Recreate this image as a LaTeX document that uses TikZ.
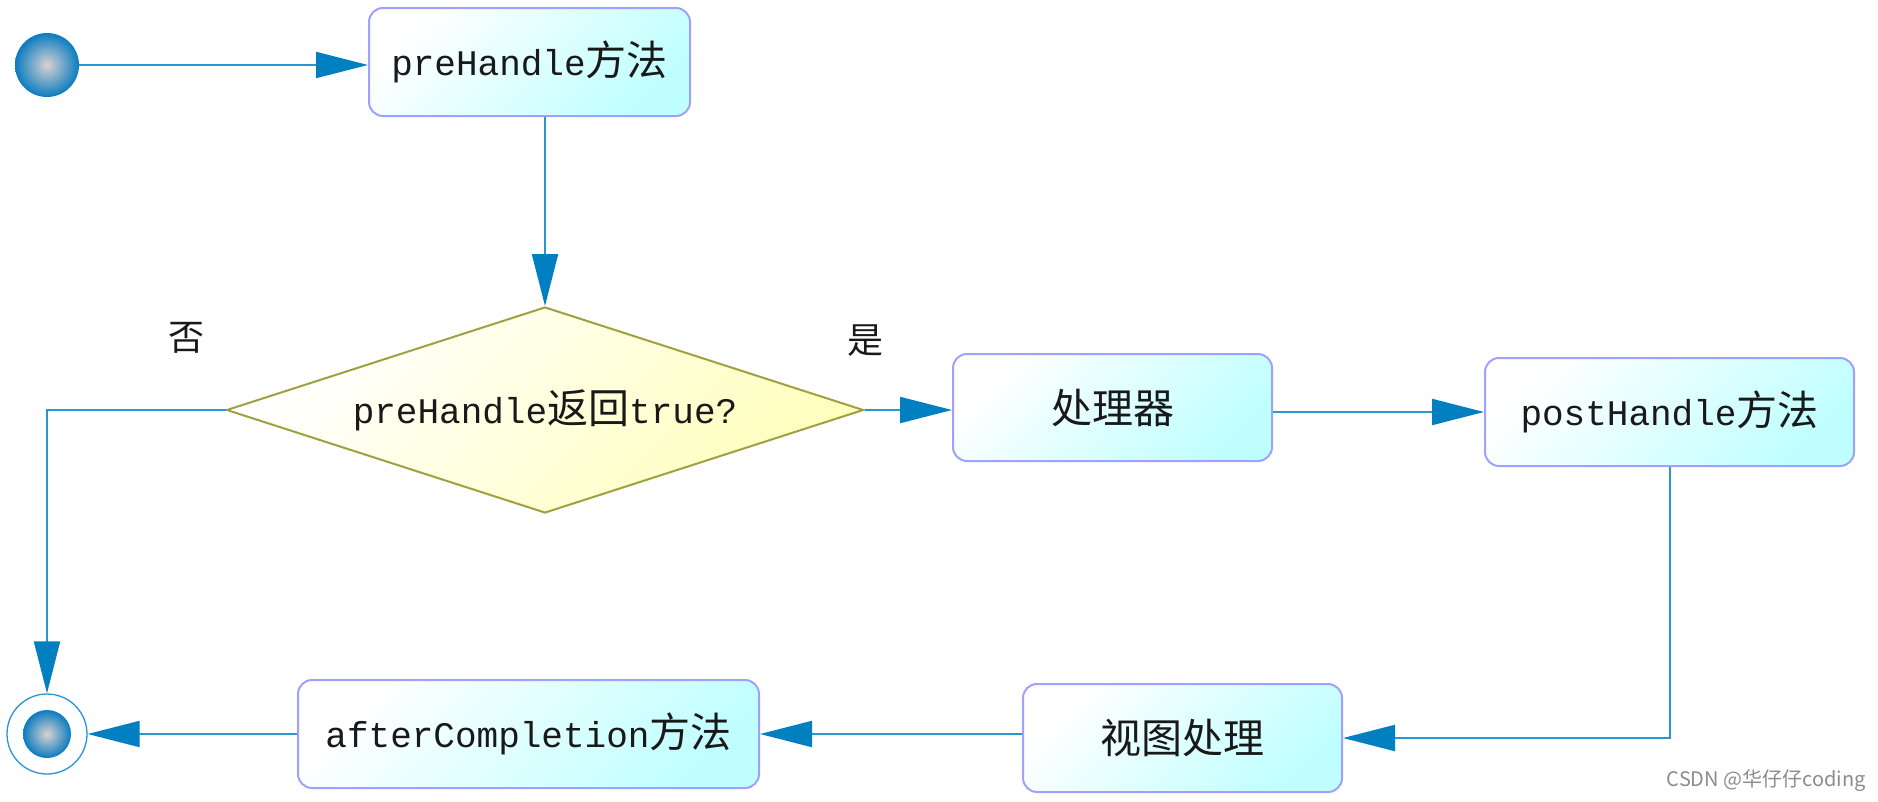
\documentclass[tikz,border=0pt]{standalone}
\usepackage{fontspec}
\usetikzlibrary{shapes.geometric,arrows.meta}
\newfontfamily\monofnt{Liberation Mono}
\newfontfamily\cjkfnt{Noto Sans CJK SC}
\newcommand\mylat[1]{{\fontsize{36}{40}\selectfont\monofnt #1}}
\newcommand\myzh[1]{{\fontsize{41}{45}\selectfont\cjkfnt #1}}
\definecolor{boxline}{RGB}{160,160,255}
\definecolor{boxfill}{RGB}{192,255,255}
\definecolor{dialine}{RGB}{160,160,64}
\definecolor{diafill}{RGB}{255,255,190}
\definecolor{connc}{RGB}{40,150,210}
\definecolor{tipc}{RGB}{0,128,192}
\definecolor{ballc}{RGB}{10,124,192}
\definecolor{ballin}{RGB}{218,210,210}
\begin{document}
\begin{tikzpicture}[x=1pt,y=-1pt,
  box/.style={draw=boxline, line width=2pt, rounded corners=14pt,
    top color=white, bottom color=boxfill, shading angle=45,
    inner sep=0pt, text=black!90},
  dec/.style={diamond, draw=dialine, line width=2pt, top color=white,
    bottom color=diafill, shading angle=45, inner sep=0pt, aspect=3.09,
    minimum width=637pt, minimum height=206pt, text=black!90},
  ball/.style={circle, inner sep=0pt, inner color=ballin, outer color=ballc},
  arr/.style={draw=connc, line width=2pt, -{Triangle[length=52pt,width=26pt,color=tipc]}},
  lbl/.style={inner sep=0pt, font=\fontsize{36}{40}\selectfont\cjkfnt, text=black!90}
]
\fill[white] (0,0) rectangle (1878,801);
\useasboundingbox (0,0) rectangle (1878,801);

% nodes
\node[ball, minimum size=64pt] (start) at (47,65) {};
\node[box, minimum width=321pt, minimum height=108pt] (pre) at (529.5,62)
  {\mylat{preHandle}\myzh{方法}};
\node[dec] (dia) at (545,410) {\mylat{preHandle}\myzh{返回}\mylat{true?}};
\node[box, minimum width=319pt, minimum height=107pt] (proc) at (1112.5,407.5)
  {\myzh{处理器}};
\node[box, minimum width=369pt, minimum height=108pt] (post) at (1669.5,412)
  {\mylat{postHandle}\myzh{方法}};
\node[box, minimum width=319pt, minimum height=108pt] (view) at (1182.5,738)
  {\myzh{视图处理}};
\node[box, minimum width=461pt, minimum height=108pt] (after) at (528.5,734)
  {\mylat{afterCompletion}\myzh{方法}};
\node[circle, draw=connc, line width=1.3pt, fill=white, minimum size=80pt, inner sep=0pt] (end) at (47,734) {};
\node[ball, minimum size=48pt] (endin) at (end.center) {};

\node[lbl] (no) at (186,338) {否};
\node[lbl] (yes) at (865,341) {是};

\node[anchor=east, inner sep=0pt, text=black!45] (wm) at (1866,781)
  {\fontsize{20}{22}\selectfont\cjkfnt CSDN @华仔仔coding};

% connectors
\draw[arr] (start.east) -- (start.east -| pre.west);
\draw[arr] (pre.south -| dia.north) -- (dia.north);
\draw[arr] (dia.east) -- (dia.east -| proc.west);
\draw[arr] (post.west -| proc.east) -- (post.west);
\draw[arr] (post.south) |- (view.east);
\draw[arr] (after.east -| view.west) -- (after.east);
\draw[arr] (after.west) -- (end.east);
\draw[arr] (dia.west) -| (end.north);
\end{tikzpicture}
\end{document}
